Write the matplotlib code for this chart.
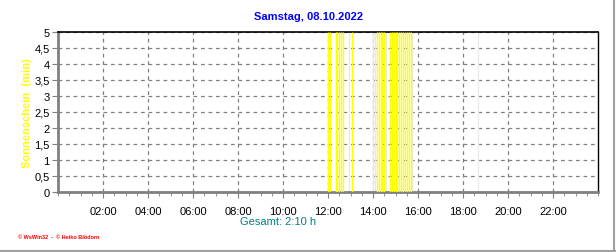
import matplotlib
matplotlib.use('Agg')
import matplotlib.pyplot as plt
from matplotlib.lines import Line2D

plt.rcParams['font.family'] = ['Liberation Sans', 'DejaVu Sans']

# Sonnenschein je 5-Minuten-Intervall (Startzeit in Stunden, Wert in min)
sonne_zeit = [12 + 0/60, 12 + 5/60, 12 + 20/60, 12 + 25/60, 12 + 30/60, 12 + 35/60,
              12 + 40/60, 13 + 5/60,
              14 + 10/60, 14 + 15/60, 14 + 20/60, 14 + 25/60, 14 + 30/60,
              14 + 45/60, 14 + 50/60, 14 + 55/60, 15 + 0/60, 15 + 5/60, 15 + 10/60,
              15 + 15/60, 15 + 20/60, 15 + 25/60, 15 + 30/60, 15 + 35/60, 15 + 40/60]
sonne_wert = [5] * len(sonne_zeit)

# schwache graue Markierungen
grau_zeit = [12 + 55/60, 14 + 0/60, 14 + 5/60, 14 + 35/60, 15 + 45/60, 18 + 40/60]

x_ticks = [2, 4, 6, 8, 10, 12, 14, 16, 18, 20, 22]
x_labels = ['02:00', '04:00', '06:00', '08:00', '10:00', '12:00',
            '14:00', '16:00', '18:00', '20:00', '22:00']
y_ticks = [0, 0.5, 1, 1.5, 2, 2.5, 3, 3.5, 4, 4.5, 5]
y_labels = ['0', '0,5', '1', '1,5', '2', '2,5', '3', '3,5', '4', '4,5', '5']

fig = plt.figure(figsize=(6.16, 2.53), dpi=100)
ax = fig.add_axes([58/616, 1 - 193/253, 540/616, 160/253])

ax.vlines(grau_zeit, 0, 5, colors='#e8e8e8', linewidth=0.9, zorder=1)
ax.vlines(sonne_zeit, 0, sonne_wert, colors='#ffff00', linewidth=1.0, zorder=3)

ax.set_xlim(0, 24)
ax.set_ylim(0, 5)
ax.set_xticks(x_ticks)
ax.set_xticklabels(x_labels, fontsize=8)
ax.set_xticks([i * 0.5 for i in range(49)], minor=True)
ax.set_yticks(y_ticks)
ax.set_yticklabels(y_labels, fontsize=8)

ax.grid(True, which='major', color='#808080', linestyle=(0, (3, 3)), linewidth=0.9, zorder=2)
ax.set_axisbelow(True)

ax.tick_params(axis='x', which='major', length=4, color='#808080', pad=6)
ax.tick_params(axis='x', which='minor', length=3, color='#808080')
ax.tick_params(axis='y', length=4, color='#808080', pad=2)

ax.spines['left'].set_color('#808080')
ax.spines['left'].set_linewidth(2)
ax.spines['bottom'].set_color('#808080')
ax.spines['bottom'].set_linewidth(2)
ax.spines['top'].set_color('black')
ax.spines['top'].set_linewidth(1.2)
ax.spines['right'].set_color('black')
ax.spines['right'].set_linewidth(1)

ax.set_ylabel('Sonnenschein  (min)', color='#ffff00', fontsize=8, fontweight='bold')
ax.yaxis.set_label_coords(-26/540, 0.5)

fig.text(309/616, 1 - 17/253, 'Samstag, 08.10.2022', color='#0000ff', fontsize=8,
         fontweight='bold', ha='center', va='center')
fig.text(278/616, 1 - 222/253, 'Gesamt: 2:10 h', color='#008080', fontsize=8,
         ha='center', va='center')
fig.text(18/616, 1 - 238/253, '© WsWin32  -  © Heiko Blödorn', color='#ff0000', fontsize=4,
         fontweight='bold', ha='left', va='center')

# Rahmen rechts und unten
fig.add_artist(Line2D([614/616, 614/616], [0, 1], color='#a0a0a0', linewidth=1.5))
fig.add_artist(Line2D([0, 1], [1.5/253, 1.5/253], color='#a0a0a0', linewidth=1.5))

fig.savefig('out.png', dpi=100)
